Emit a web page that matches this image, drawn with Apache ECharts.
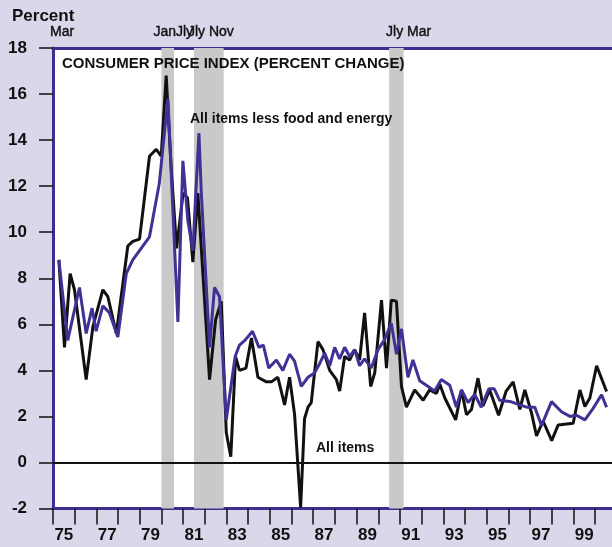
<!DOCTYPE html>
<html>
<head>
<meta charset="utf-8">
<script src="https://cdn.jsdelivr.net/npm/echarts@6/dist/echarts.min.js"></script>
<style>
  html, body { margin: 0; padding: 0; background: #dcd6ea; }
  #chart { width: 612px; height: 547px; }
</style>
</head>
<body>
<div id="chart"></div>
<script>
// All items (black) — dates in decimal years, values in percent change
const allItemsDates = [1975.27,1975.53,1975.79,1975.99,1976.53,1976.84,1977.30,1977.53,1977.92,1978.45,1978.68,1978.99,1979.45,1979.76,1979.99,1980.22,1980.45,1980.70,1981.00,1981.20,1981.45,1981.68,1982.22,1982.50,1982.76,1982.99,1983.20,1983.42,1983.60,1983.90,1984.15,1984.45,1984.84,1985.07,1985.37,1985.68,1985.91,1986.14,1986.42,1986.60,1986.76,1986.91,1987.22,1987.45,1987.76,1988.07,1988.22,1988.45,1988.68,1988.91,1989.14,1989.37,1989.65,1989.84,1990.15,1990.38,1990.60,1990.84,1991.07,1991.30,1991.68,1992.07,1992.37,1992.68,1992.84,1993.07,1993.57,1993.84,1994.07,1994.30,1994.60,1994.83,1995.14,1995.55,1995.90,1996.22,1996.53,1996.76,1997.07,1997.30,1997.60,1998.00,1998.30,1998.99,1999.30,1999.53,1999.76,2000.07,2000.53];
const allItemsValues = [8.8,5.0,8.2,7.5,3.6,5.9,7.5,7.2,5.6,9.4,9.6,9.7,13.3,13.6,13.3,16.8,12.8,9.3,11.7,11.5,8.7,11.7,3.6,6.2,7.0,1.3,0.25,4.6,4.0,4.1,5.4,3.7,3.5,3.5,3.7,2.5,3.7,2.1,-1.95,1.9,2.4,2.6,5.25,4.9,4.0,3.6,3.1,4.6,4.45,4.9,4.45,6.5,3.3,3.9,7.05,4.1,7.05,7.0,3.3,2.4,3.15,2.7,3.15,3.0,3.4,2.8,1.85,3.15,2.07,2.3,3.66,2.45,3.15,2.05,3.1,3.5,2.3,3.15,2.14,1.15,1.8,0.95,1.63,1.7,3.15,2.43,2.8,4.2,3.08];

// All items less food and energy (purple)
const coreDates = [1975.27,1975.68,1976.22,1976.53,1976.80,1976.99,1977.30,1977.60,1977.99,1978.38,1978.68,1979.45,1979.90,1980.30,1980.76,1980.99,1981.22,1981.45,1981.73,1981.84,1982.22,1982.45,1982.68,1982.99,1983.40,1983.60,1983.85,1984.20,1984.50,1984.70,1984.95,1985.30,1985.60,1985.91,1986.14,1986.45,1986.76,1987.07,1987.30,1987.53,1987.76,1987.99,1988.22,1988.45,1988.68,1988.91,1989.14,1989.37,1989.68,1989.99,1990.30,1990.60,1990.84,1991.07,1991.37,1991.60,1991.91,1992.30,1992.60,1992.91,1993.30,1993.60,1993.84,1994.14,1994.45,1994.75,1995.10,1995.35,1995.60,1996.07,1996.53,1996.84,1997.22,1997.53,1997.99,1998.45,1998.84,1999.14,1999.53,1999.91,2000.30,2000.53];
const coreValues = [8.8,5.3,7.6,5.6,6.7,5.7,6.8,6.5,5.45,8.2,8.8,9.8,12.1,15.8,6.1,13.1,10.5,9.2,14.3,11.7,5.0,7.6,7.2,1.85,4.6,5.1,5.3,5.7,5.0,5.1,4.1,4.45,4.0,4.7,4.4,3.3,3.7,3.9,4.3,4.75,4.2,5.0,4.5,5.0,4.6,4.9,4.2,4.5,4.1,4.9,5.35,6.05,4.7,5.8,3.7,4.45,3.55,3.3,3.1,3.6,3.35,2.4,3.15,2.6,2.95,2.4,3.2,3.2,2.7,2.65,2.5,2.4,2.4,1.6,2.64,2.2,2.0,2.05,1.85,2.35,2.94,2.4];

// Recession periods (peak, trough) and their month labels
const recessionStarts = [1980.0, 1981.5, 1990.5];
const recessionEnds   = [1980.58, 1982.87, 1991.17];
const recessionLabels = ['JanJly', 'Jly Nov', 'Jly Mar'];
const earlyTroughDate = 1975.2;
const earlyTroughLabel = 'Mar';

// Axis ticks
const yearTicks = [];
for (let y = 1975; y <= 2000; y++) yearTicks.push(y);
const yearLabelYears = [1975,1977,1979,1981,1983,1985,1987,1989,1991,1993,1995,1997,1999];

const PURPLE = '#3b2f8f';
const LINEPURPLE = '#3e3294';
const FONT = "'Liberation Sans', Arial, sans-serif";
const INK = '#111';

const zip = (xs, ys) => xs.map((x, i) => [x, ys[i]]);

const bandOffsets = [[-8, -23], [-6, -23], [-3, -23]];
const markAreaData = recessionStarts.map((s, i) => [
  { xAxis: s, label: { show: true, formatter: recessionLabels[i], position: bandOffsets[i] } },
  { xAxis: recessionEnds[i] }
]);
markAreaData.push([
  { xAxis: 1975.0, itemStyle: { color: 'rgba(0,0,0,0)' },
    label: { show: true, formatter: earlyTroughLabel, position: [-3, -23] } },
  { xAxis: earlyTroughDate }
]);

const annot = (size, weight) => ({ fontSize: size, fontWeight: weight, color: INK, fontFamily: FONT });

const chart = echarts.init(document.getElementById('chart'), null, { renderer: 'canvas' });
chart.setOption({
  animation: false,
  backgroundColor: '#dcd6ea',
  textStyle: { fontFamily: FONT },
  title: [
    { text: 'Percent', left: 12, top: 8, padding: 0, textStyle: annot(17, 'bold') },
    { text: 'CONSUMER PRICE INDEX (PERCENT CHANGE)', left: 62, top: 56, padding: 0, textStyle: annot(15, 'bold') },
    { text: 'All items less food and energy', left: 190, top: 112, padding: 0, textStyle: annot(14, 'bold') },
    { text: 'All items', left: 316, top: 441, padding: 0, textStyle: annot(14, 'bold') }
  ],
  grid: { left: 53, right: 0, top: 48, bottom: 38.5, show: true, backgroundColor: '#ffffff', borderWidth: 0 },
  xAxis: [
    {
      type: 'value', min: 1975, max: 2000.78, interval: 1,
      axisLine: { show: true, onZero: false, lineStyle: { color: PURPLE, width: 3 } },
      axisTick: { show: true, inside: false, length: 16, customValues: yearTicks, lineStyle: { color: INK, width: 1.5 } },
      axisLabel: {
        show: true, margin: 18, customValues: yearLabelYears.map(y => y + 0.5),
        formatter: v => String(Math.floor(v) % 100).padStart(2, '0'),
        fontSize: 17, fontWeight: 'bold', color: INK, fontFamily: FONT
      },
      splitLine: { show: false }
    },
    {
      type: 'value', position: 'top', min: 1975, max: 2000.78, interval: 1,
      axisLine: { show: true, onZero: false, lineStyle: { color: PURPLE, width: 3 } },
      axisTick: { show: false }, axisLabel: { show: false }, splitLine: { show: false }
    }
  ],
  yAxis: {
    type: 'value', min: -2, max: 18, interval: 2,
    axisLine: { show: true, onZero: false, lineStyle: { color: PURPLE, width: 3 } },
    axisTick: { show: true, inside: false, length: 14, lineStyle: { color: INK, width: 1.5 } },
    axisLabel: { margin: 26, fontSize: 17, fontWeight: 'bold', color: INK, fontFamily: FONT },
    splitLine: { show: false }
  },
  series: [
    {
      name: 'bands', type: 'line', data: [], xAxisIndex: 0,
      markArea: {
        silent: true,
        itemStyle: { color: '#c9c9c9' },
        label: { color: INK, fontSize: 14, fontFamily: FONT, textBorderColor: INK, textBorderWidth: 0.4 },
        data: markAreaData
      },
      markLine: {
        silent: true, symbol: 'none',
        lineStyle: { color: INK, width: 2, type: 'solid' },
        label: { show: false },
        data: [{ yAxis: 0 }]
      }
    },
    {
      name: 'All items', type: 'line', xAxisIndex: 0, showSymbol: false, symbol: 'none',
      lineStyle: { color: INK, width: 3 }, itemStyle: { color: INK },
      data: zip(allItemsDates, allItemsValues), z: 3
    },
    {
      name: 'All items less food and energy', type: 'line', xAxisIndex: 0, showSymbol: false, symbol: 'none',
      lineStyle: { color: LINEPURPLE, width: 3 }, itemStyle: { color: LINEPURPLE },
      data: zip(coreDates, coreValues), z: 4
    }
  ]
});
</script>
</body>
</html>
